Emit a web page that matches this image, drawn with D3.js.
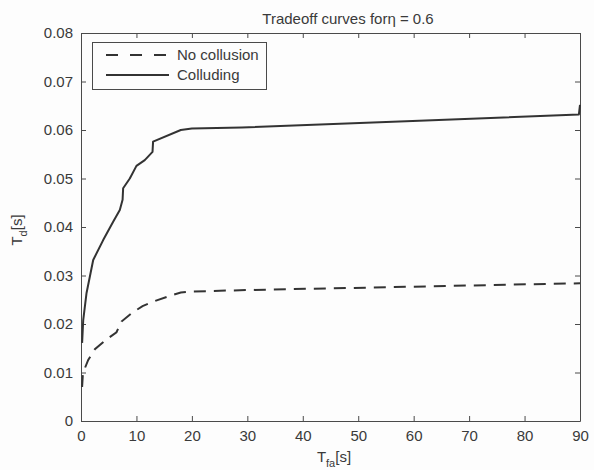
<!DOCTYPE html>
<html>
<head>
<meta charset="utf-8">
<script src="https://cdn.jsdelivr.net/npm/d3@7"></script>
<style>
  body { margin: 0; background: #fdfdfd; }
  svg { display: block; }
  text { font-family: "Liberation Sans", Arial, Helvetica, sans-serif; fill: #3a3a3a; }
</style>
</head>
<body>
<script>
// Axis ticks
const xTickValues = [0, 10, 20, 30, 40, 50, 60, 70, 80, 90];
const yTickValues = [0, 0.01, 0.02, 0.03, 0.04, 0.05, 0.06, 0.07, 0.08];
const yTickLabels = ["0", "0.01", "0.02", "0.03", "0.04", "0.05", "0.06", "0.07", "0.08"];

// No collusion: false-alarm time T_fa [s] vs detection time T_d [s]
const noCollusionFa = [0.2, 0.35, 1.3, 2.5, 4.45, 6.4, 7.3, 9.1, 11.1, 13.0, 16.0, 18.0, 20.0, 30.0, 60.0, 90.0];
const noCollusionTd = [0.0070, 0.0099, 0.0126, 0.0148, 0.0167, 0.0183, 0.0205, 0.0222, 0.0237, 0.0246, 0.0258, 0.0265, 0.0267, 0.0270, 0.0277, 0.0284];

// Colluding
const colludingFa = [0.2, 0.4, 1.0, 2.2, 4.0, 5.8, 7.0, 7.5, 7.6, 8.8, 10.0, 11.5, 12.9, 13.0, 18.0, 20.0, 29.0, 61.0, 89.8, 90.0];
const colludingTd = [0.0161, 0.0208, 0.0264, 0.0332, 0.0373, 0.0411, 0.0435, 0.0456, 0.0480, 0.0500, 0.0526, 0.0538, 0.0555, 0.0576, 0.0600, 0.0603, 0.0605, 0.0619, 0.0632, 0.0652];

const W = 594, H = 470;
const plot = { left: 81, right: 580, top: 33, bottom: 421 };

const svg = d3.select("body").append("svg").attr("width", W).attr("height", H);

const x = d3.scaleLinear().domain([0, 90]).range([plot.left, plot.right]);
const y = d3.scaleLinear().domain([0, 0.08]).range([plot.bottom, plot.top]);

const tickLen = 5;
const axisColor = "#4a4a4a";

// Axes: ticks point inward on all four sides, labels on bottom and left
const bottomAxis = d3.axisBottom(x).tickValues(xTickValues).tickSizeInner(-tickLen).tickSizeOuter(0).tickPadding(9);
const topAxis = d3.axisTop(x).tickValues(xTickValues).tickSizeInner(-tickLen).tickSizeOuter(0).tickFormat("");
const leftAxis = d3.axisLeft(y).tickValues(yTickValues).tickSizeInner(-tickLen).tickSizeOuter(0).tickPadding(8)
  .tickFormat((d, i) => yTickLabels[i]);
const rightAxis = d3.axisRight(y).tickValues(yTickValues).tickSizeInner(-tickLen).tickSizeOuter(0).tickFormat("");

function styleAxis(g) {
  g.select(".domain").attr("stroke", axisColor).attr("stroke-width", 1);
  g.selectAll(".tick line").attr("stroke", axisColor).attr("stroke-width", 1);
  g.selectAll(".tick text").attr("font-size", 15).attr("fill", "#3a3a3a")
    .attr("font-family", "'Liberation Sans', Arial, Helvetica, sans-serif");
}

svg.append("g").attr("transform", `translate(0,${plot.bottom})`).call(bottomAxis).call(styleAxis);
svg.append("g").attr("transform", `translate(0,${plot.top})`).call(topAxis).call(styleAxis);
svg.append("g").attr("transform", `translate(${plot.left},0)`).call(leftAxis).call(styleAxis);
svg.append("g").attr("transform", `translate(${plot.right},0)`).call(rightAxis).call(styleAxis);

// Curves
const line = d3.line().x(d => x(d[0])).y(d => y(d[1]));
const noCollusion = noCollusionFa.map((v, i) => [v, noCollusionTd[i]]);
const colluding = colludingFa.map((v, i) => [v, colludingTd[i]]);

const curveColor = "#333";
svg.append("path").datum(noCollusion).attr("d", line)
  .attr("fill", "none").attr("stroke", curveColor).attr("stroke-width", 2)
  .attr("stroke-dasharray", "12,8");
svg.append("path").datum(colluding).attr("d", line)
  .attr("fill", "none").attr("stroke", curveColor).attr("stroke-width", 2)
  .attr("stroke-linejoin", "round");

// Title
svg.append("text").attr("x", 348).attr("y", 24).attr("text-anchor", "middle").attr("font-size", 15)
  .text("Tradeoff curves forη = 0.6");

// X label: T_fa[s]
const xl = svg.append("text").attr("x", 334).attr("y", 462).attr("text-anchor", "middle").attr("font-size", 15);
xl.append("tspan").text("T");
xl.append("tspan").attr("font-size", 11).attr("dy", 5).text("fa");
xl.append("tspan").attr("dy", -5).text("[s]");

// Y label: T_d[s]
const yl = svg.append("text").attr("transform", `translate(22,230) rotate(-90)`)
  .attr("text-anchor", "middle").attr("font-size", 15);
yl.append("tspan").text("T");
yl.append("tspan").attr("font-size", 11).attr("dy", 5).text("d");
yl.append("tspan").attr("dy", -5).text("[s]");

// Legend
const legend = svg.append("g");
legend.append("rect").attr("x", 92.5).attr("y", 42.5).attr("width", 174).attr("height", 47)
  .attr("fill", "#fdfdfd").attr("stroke", axisColor).attr("stroke-width", 1);
const legendItems = [
  { label: "No collusion", dash: "12,12", y: 55 },
  { label: "Colluding", dash: null, y: 75 }
];
legendItems.forEach(item => {
  const l = legend.append("line").attr("x1", 106).attr("x2", 169).attr("y1", item.y).attr("y2", item.y)
    .attr("stroke", curveColor).attr("stroke-width", 2);
  if (item.dash) l.attr("stroke-dasharray", item.dash);
  legend.append("text").attr("x", 177).attr("y", item.y + 5).attr("font-size", 15).text(item.label);
});
</script>
</body>
</html>
